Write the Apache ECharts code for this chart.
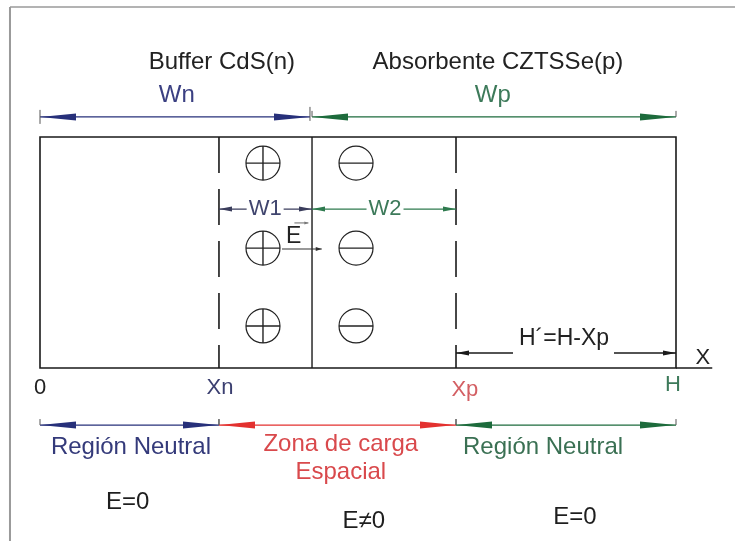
<!DOCTYPE html>
<html><head><meta charset="utf-8">
<script src="https://cdn.jsdelivr.net/npm/echarts@6/dist/echarts.min.js"></script>
<style>html,body{margin:0;padding:0;background:#fff}#c{width:735px;height:541px}</style>
</head><body><div id="c"></div>
<script>
// ---------------- DATA (diagram units: x 0..H=100 along device, y 0..10 box height) ----------------
const edgeNames = ['0', 'Xn', 'Unión', 'Xp', 'H'];
const edgeX = [0, 28.14, 42.77, 65.41, 100];
const boxHeight = 10;

// fixed charges
const plusX = [35.06, 35.06, 35.06];
const plusY = [8.87, 5.19, 1.82];
const minusX = [49.69, 49.69, 49.69];
const minusY = [8.87, 5.19, 1.82];

// dimension arrows (double headed)
const dimNames = ['Wn', 'Wp', 'RegN', 'ZCE', 'RegP', 'W1', 'W2'];
const dimFrom  = [0, 42.77, 0, 28.14, 65.41, 28.14, 42.77];
const dimTo    = [42.45, 100, 28.14, 65.41, 100, 42.77, 65.41];
const dimY     = [10.87, 10.87, -2.47, -2.47, -2.47, 6.88, 6.88];

// single-headed arrows [from, to(tip), y]
const singleFrom = [74.37, 90.25, 38.05, 40.0];
const singleTo   = [65.41, 100, 44.3, 42.2];
const singleY    = [0.65, 0.65, 5.15, 6.28];

// text labels
const labelText = ['Buffer CdS(n)', 'Absorbente CZTSSe(p)', 'Wn', 'Wp', 'W1', 'W2', 'E',
  'H´=H-Xp', 'X', '0', 'Xn', 'Xp', 'H',
  'Región Neutral', 'Zona de carga', 'Espacial', 'Región Neutral',
  'E=0', 'E≠0', 'E=0'];
const labelX = [28.6, 72.0, 21.5, 71.2, 35.4, 54.25, 39.9,
  82.4, 104.2, 0, 28.3, 66.8, 99.5,
  14.3, 47.3, 47.3, 79.1,
  13.8, 50.9, 84.1];
const labelY = [13.25, 13.25, 11.82, 11.82, 6.88, 6.88, 5.7,
  1.26, 0.43, -0.87, -0.87, -0.95, -0.74,
  -3.42, -3.29, -4.5, -3.42,
  -5.8, -6.62, -6.45];

// ---------------- STYLE ----------------
const BLUE = '#27307a', GREEN = '#1d6b3c', RED = '#e3312f', BLACK = '#1a1a1a';
const dimColor = [BLUE, GREEN, BLUE, RED, GREEN, '#3a3d5c', '#2e7a4e'];
const dimHead = [[36, 3.5], [36, 3.5], [36, 3.5], [36, 3.5], [36, 3.5], [13, 2.5], [13, 2.5]];
const dimTick = [14, 6, 6, 6, 6, 0, 0];
const singleHead = [[13, 2.5], [13, 2.5], [6, 2], [4, 1.5]];
const singleColor = [BLACK, BLACK, '#333', '#777'];
const FONT = "'Liberation Sans', Arial, sans-serif";
const labelStyle = [
  [24, '#222'], [24, '#222'], [24, '#3b4082'], [24, '#3d7a5a'], [22, '#40456e'], [22, '#3d7a5a'], [23, '#222'],
  [23, '#222'], [22, '#222'], [22, '#222'], [22, '#3b3f70'], [22, '#d35f63'], [22, '#3d7a5a'],
  [24, '#343a7a'], [24, '#d9494c'], [24, '#d9494c'], [24, '#3a7053'],
  [24, '#1e1e1e'], [24, '#1e1e1e'], [24, '#1e1e1e']];
const labelBg = [false, false, false, false, true, true, false, false, false, false, false, false, false,
  false, false, false, false, false, false, false];

function head(tip, dir, len, half, color) {
  return {
    type: 'polygon',
    shape: { points: [[tip[0], tip[1]], [tip[0] - dir * len, tip[1] - half], [tip[0] - dir * len, tip[1] + half]] },
    style: { fill: color }
  };
}

const chart = echarts.init(document.getElementById('c'), null, { renderer: 'canvas' });
chart.setOption({
  backgroundColor: '#fff',
  animation: false,
  grid: { left: 40, right: 59, top: 137, bottom: 173 },
  xAxis: { type: 'value', min: 0, max: 100, show: false },
  yAxis: { type: 'value', min: 0, max: boxHeight, show: false },
  series: [
    // structure: frame, box, junction, dashed boundaries, x-axis extension
    {
      type: 'custom', silent: true, clip: false,
      data: [[0]],
      renderItem: function (params, api) {
        const c = (x, y) => api.coord([x, y]);
        const tl = c(edgeX[0], boxHeight), br = c(edgeX[4], 0);
        const frameTL = c(-4.72, 15.63), frameTR = c(109.3, 15.63), frameBL = c(-4.72, -7.6);
        const j1 = c(edgeX[2], boxHeight), j2 = c(edgeX[2], 0);
        const n1 = c(edgeX[1], boxHeight), n2 = c(edgeX[1], 0);
        const p1 = c(edgeX[3], boxHeight), p2 = c(edgeX[3], 0);
        const ext = c(105.7, 0);
        return {
          type: 'group',
          children: [
            { type: 'line', shape: { x1: frameTL[0], y1: frameTL[1], x2: frameTR[0], y2: frameTR[1] }, style: { stroke: '#9a9a9a', lineWidth: 1.5 } },
            { type: 'line', shape: { x1: frameTL[0], y1: frameTL[1], x2: frameBL[0], y2: frameBL[1] }, style: { stroke: '#9a9a9a', lineWidth: 2 } },
            { type: 'rect', shape: { x: tl[0], y: tl[1], width: br[0] - tl[0], height: br[1] - tl[1] }, style: { fill: 'none', stroke: BLACK, lineWidth: 1.6 } },
            { type: 'line', shape: { x1: j1[0], y1: j1[1], x2: j2[0], y2: j2[1] }, style: { stroke: BLACK, lineWidth: 1.4 } },
            { type: 'line', shape: { x1: n1[0], y1: n1[1], x2: n2[0], y2: n2[1] }, style: { stroke: BLACK, lineWidth: 1.6, lineDash: [36, 16] } },
            { type: 'line', shape: { x1: p1[0], y1: p1[1], x2: p2[0], y2: p2[1] }, style: { stroke: BLACK, lineWidth: 1.6, lineDash: [36, 16] } },
            { type: 'line', shape: { x1: br[0], y1: br[1], x2: ext[0], y2: ext[1] }, style: { stroke: BLACK, lineWidth: 1.4 } }
          ]
        };
      }
    },
    // charges
    {
      type: 'custom', silent: true, clip: false,
      data: plusX.map((x, i) => [x, plusY[i], 1]).concat(minusX.map((x, i) => [x, minusY[i], -1])),
      renderItem: function (params, api) {
        const p = api.coord([api.value(0), api.value(1)]);
        const r = 17;
        const ch = [
          { type: 'circle', shape: { cx: p[0], cy: p[1], r: r }, style: { fill: 'none', stroke: '#222', lineWidth: 1.2 } },
          { type: 'line', shape: { x1: p[0] - r, y1: p[1], x2: p[0] + r, y2: p[1] }, style: { stroke: '#222', lineWidth: 1.4 } }
        ];
        if (api.value(2) > 0) ch.push({ type: 'line', shape: { x1: p[0], y1: p[1] - r, x2: p[0], y2: p[1] + r }, style: { stroke: '#222', lineWidth: 1.4 } });
        return { type: 'group', children: ch };
      }
    },
    // double-headed dimension arrows
    {
      type: 'custom', silent: true, clip: false,
      data: dimFrom.map((f, i) => [f, dimTo[i], dimY[i]]),
      renderItem: function (params, api) {
        const i = params.dataIndex;
        const a = api.coord([api.value(0), api.value(2)]);
        const b = api.coord([api.value(1), api.value(2)]);
        const col = dimColor[i];
        const hl = dimHead[i][0], hh = dimHead[i][1];
        const ch = [
          { type: 'line', shape: { x1: a[0], y1: a[1], x2: b[0], y2: b[1] }, style: { stroke: col, lineWidth: 1.3 } },
          head(a, -1, hl, hh, col),
          head(b, 1, hl, hh, col)
        ];
        const t = dimTick[i];
        if (t > 0) {
          ch.push({ type: 'line', shape: { x1: a[0], y1: a[1] - t / 2 - (t < 10 ? 3 : 0), x2: a[0], y2: a[1] + t / 2 - (t < 10 ? 3 : 0) }, style: { stroke: '#555', lineWidth: 1 } });
          ch.push({ type: 'line', shape: { x1: b[0], y1: b[1] - t / 2 - 3, x2: b[0], y2: b[1] + t / 2 - 3 }, style: { stroke: '#555', lineWidth: 1 } });
        }
        return { type: 'group', children: ch };
      }
    },
    // single-headed arrows (H', E field)
    {
      type: 'custom', silent: true, clip: false,
      data: singleFrom.map((f, i) => [f, singleTo[i], singleY[i]]),
      renderItem: function (params, api) {
        const i = params.dataIndex;
        const a = api.coord([api.value(0), api.value(2)]);
        const b = api.coord([api.value(1), api.value(2)]);
        const dir = b[0] > a[0] ? 1 : -1;
        const col = singleColor[i];
        return {
          type: 'group',
          children: [
            { type: 'line', shape: { x1: a[0], y1: a[1], x2: b[0], y2: b[1] }, style: { stroke: col, lineWidth: i < 2 ? 1.6 : 1.1 } },
            head(b, dir, singleHead[i][0], singleHead[i][1], col)
          ]
        };
      }
    },
    // text labels
    {
      type: 'custom', silent: true, clip: false,
      data: labelX.map((x, i) => [x, labelY[i]]),
      renderItem: function (params, api) {
        const i = params.dataIndex;
        const p = api.coord([api.value(0), api.value(1)]);
        const st = {
          text: labelText[i], x: p[0], y: p[1],
          font: labelStyle[i][0] + 'px ' + FONT,
          fill: labelStyle[i][1], align: 'center', verticalAlign: 'middle'
        };
        if (labelBg[i]) { st.backgroundColor = '#fff'; st.padding = [0, 2]; }
        return { type: 'text', style: st };
      }
    }
  ]
});
</script>
</body></html>
